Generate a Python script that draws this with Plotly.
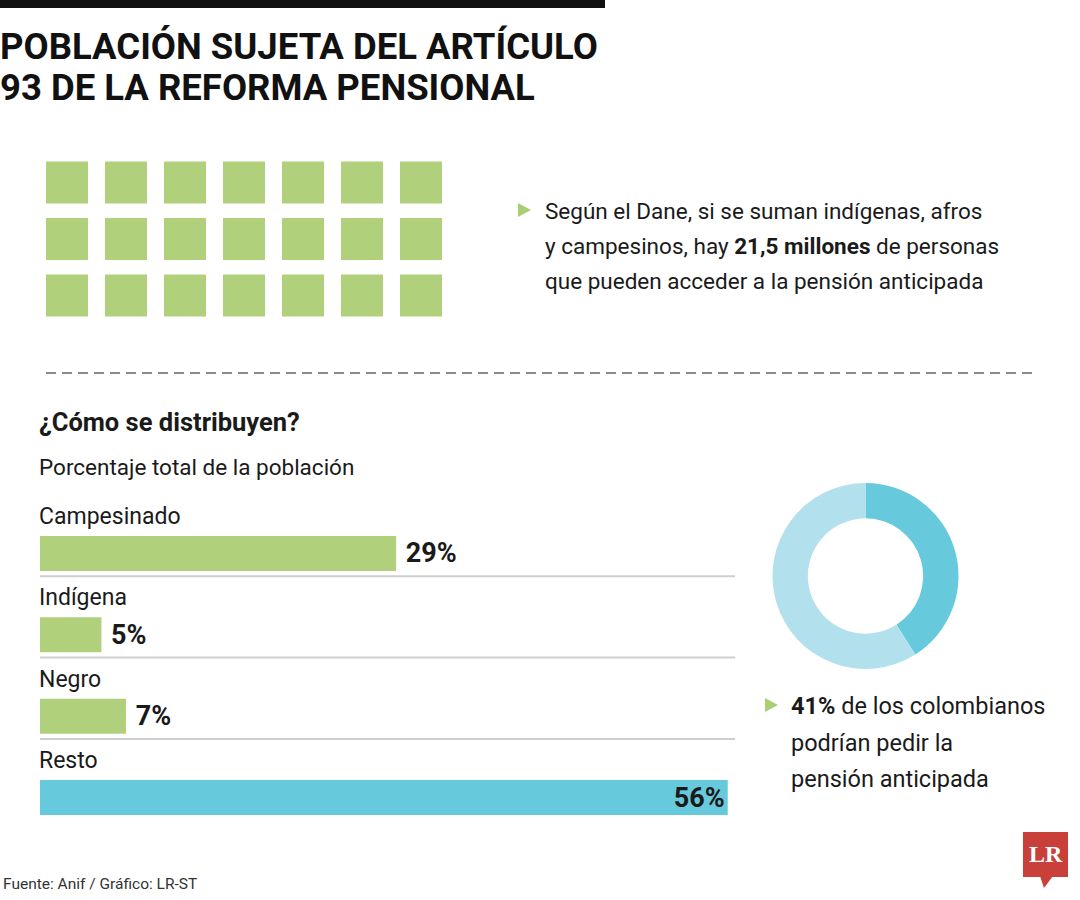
import plotly.graph_objects as go

W, H = 1080, 900

# ---------------- data ----------------
categories = ["Campesinado", "Indígena", "Negro", "Resto"]
shares = [29, 5, 7, 56]
bar_colors = ["#b1d07b", "#b1d07b", "#b1d07b", "#66c9dc"]

donut_labels = ["Podrían pedir la pensión anticipada", "Resto"]
donut_values = [41, 59]
donut_colors = ["#66c9dc", "#b2e1ed"]

waffle_cols = [0, 1, 2, 3, 4, 5, 6]
waffle_rows = [0, 1, 2]

FONT = "Roboto, Liberation Sans, sans-serif"
TXT = "#1a1a1a"


def px(x):
    return x / W


def py(y):
    return 1 - y / H


fig = go.Figure()

# waffle squares
wx = [c for r in waffle_rows for c in waffle_cols]
wy = [r for r in waffle_rows for c in waffle_cols]
fig.add_trace(go.Scatter(
    x=wx, y=wy, mode="markers", xaxis="x3", yaxis="y3",
    marker=dict(symbol="square", size=42, color="#b1d07b", line=dict(width=0)),
    hoverinfo="skip", showlegend=False))

# bars
texts = [("\u00a0<b>%d%%</b>" % v) if i < 3 else ("<b>%d%%</b>" % v) for i, v in enumerate(shares)]
fig.add_trace(go.Bar(
    x=shares, y=categories, orientation="h", xaxis="x2", yaxis="y2",
    marker=dict(color=bar_colors, line=dict(width=0)),
    width=0.43,
    text=texts, texttemplate="%{text}",
    textposition=["outside", "outside", "outside", "inside"],
    insidetextanchor="end", constraintext="none", cliponaxis=False,
    textfont=dict(family=FONT, size=27, color=TXT),
    hoverinfo="skip", showlegend=False))

# donut
fig.add_trace(go.Pie(
    labels=donut_labels, values=donut_values, hole=0.62, sort=False,
    direction="clockwise", rotation=0,
    marker=dict(colors=donut_colors, line=dict(width=0)),
    textinfo="none", hoverinfo="skip", showlegend=False,
    domain=dict(x=[px(772.5), px(958.5)], y=[py(669), py(483)])))

shapes = []
# top black bar
shapes.append(dict(type="rect", xref="paper", yref="paper", x0=0, x1=px(605),
                   y0=py(8), y1=1, fillcolor="#111111", line=dict(width=0), layer="above"))
# dashed separator
shapes.append(dict(type="line", xref="paper", yref="paper", x0=px(46), x1=px(1035),
                   y0=py(373), y1=py(373), line=dict(color="#8a8a8a", width=2, dash="10px,6px")))
# row separators under bars
for i in range(3):
    shapes.append(dict(type="line", xref="x2", yref="y2", x0=0, x1=56.6,
                       y0=i + 0.28, y1=i + 0.28, line=dict(color="#cfcfcf", width=2)))
# triangles (bullets)
for (tx, ty) in [(518, 210), (765, 705)]:
    shapes.append(dict(type="path", xref="paper", yref="paper",
                       path="M %f %f L %f %f L %f %f Z" % (px(tx), py(ty - 7), px(tx + 13), py(ty), px(tx), py(ty + 7)),
                       fillcolor="#a8cf72", line=dict(width=0)))
# LR logo
shapes.append(dict(type="rect", xref="paper", yref="paper", x0=px(1023), x1=px(1068),
                   y0=py(877), y1=py(832), fillcolor="#c9403b", line=dict(width=0)))
shapes.append(dict(type="path", xref="paper", yref="paper",
                   path="M %f %f L %f %f L %f %f Z" % (px(1040), py(876), px(1053), py(876), px(1044), py(888)),
                   fillcolor="#c9403b", line=dict(width=0)))

annotations = []


def note(text, x, y, size, bold=False, color=TXT, xanchor="left", family=FONT):
    annotations.append(dict(
        text=("<b>%s</b>" % text) if bold else text, x=px(x), y=py(y),
        xref="paper", yref="paper", xanchor=xanchor, yanchor="middle",
        showarrow=False, font=dict(family=family, size=size, color=color)))


note("POBLACIÓN SUJETA DEL ARTÍCULO", -2, 47, 36.5, bold=True, color="#111111")
note("93 DE LA REFORMA PENSIONAL", -2, 87, 36.5, bold=True, color="#111111")

note("Según el Dane, si se suman indígenas, afros", 543, 211, 22.5)
note("y campesinos, hay <b>21,5 millones</b> de personas", 543, 246, 22.5)
note("que pueden acceder a la pensión anticipada", 543, 281, 22.5)

note("¿Cómo se distribuyen?", 37, 422, 25.5, bold=True)
note("Porcentaje total de la población", 37, 467, 22.5)

note("<b>41%</b> de los colombianos", 789, 706, 23.5)
note("podrían pedir la", 789, 743, 23.5)
note("pensión anticipada", 789, 779, 23.5)

note("Fuente: Anif / Gráfico: LR-ST", 1, 884, 15.5, color="#333333")
note("LR", 1045.5, 854, 24, bold=True, color="white", xanchor="center",
     family="Liberation Serif, DejaVu Serif, serif")

# category labels above bars
for c in categories:
    annotations.append(dict(
        text=c, x=0, y=c, xref="x2", yref="y2", xanchor="left", yanchor="middle",
        yshift=37, xshift=-3, showarrow=False, font=dict(family=FONT, size=23, color=TXT)))

fig.update_layout(
    width=W, height=H, margin=dict(l=0, r=0, t=0, b=0),
    paper_bgcolor="white", plot_bgcolor="rgba(0,0,0,0)",
    shapes=shapes, annotations=annotations,
    xaxis=dict(visible=False),
    yaxis=dict(visible=False),
    xaxis2=dict(domain=[px(40), px(740)], range=[0, 57.0], visible=False, fixedrange=True),
    yaxis2=dict(domain=[py(838.2), py(512.8)], type="category", range=[3.5, -0.5],
                autorange=False, visible=False, anchor="x2", fixedrange=True),
    xaxis3=dict(domain=[px(37.5), px(450.5)], range=[-0.5, 6.5], visible=False, fixedrange=True),
    yaxis3=dict(domain=[py(323.75), py(154.25)], range=[2.5, -0.5], visible=False,
                anchor="x3", fixedrange=True),
)

fig.write_html("out.html", config={"displayModeBar": False},
               post_script="document.body.style.margin='0';document.body.style.overflow='hidden';")
